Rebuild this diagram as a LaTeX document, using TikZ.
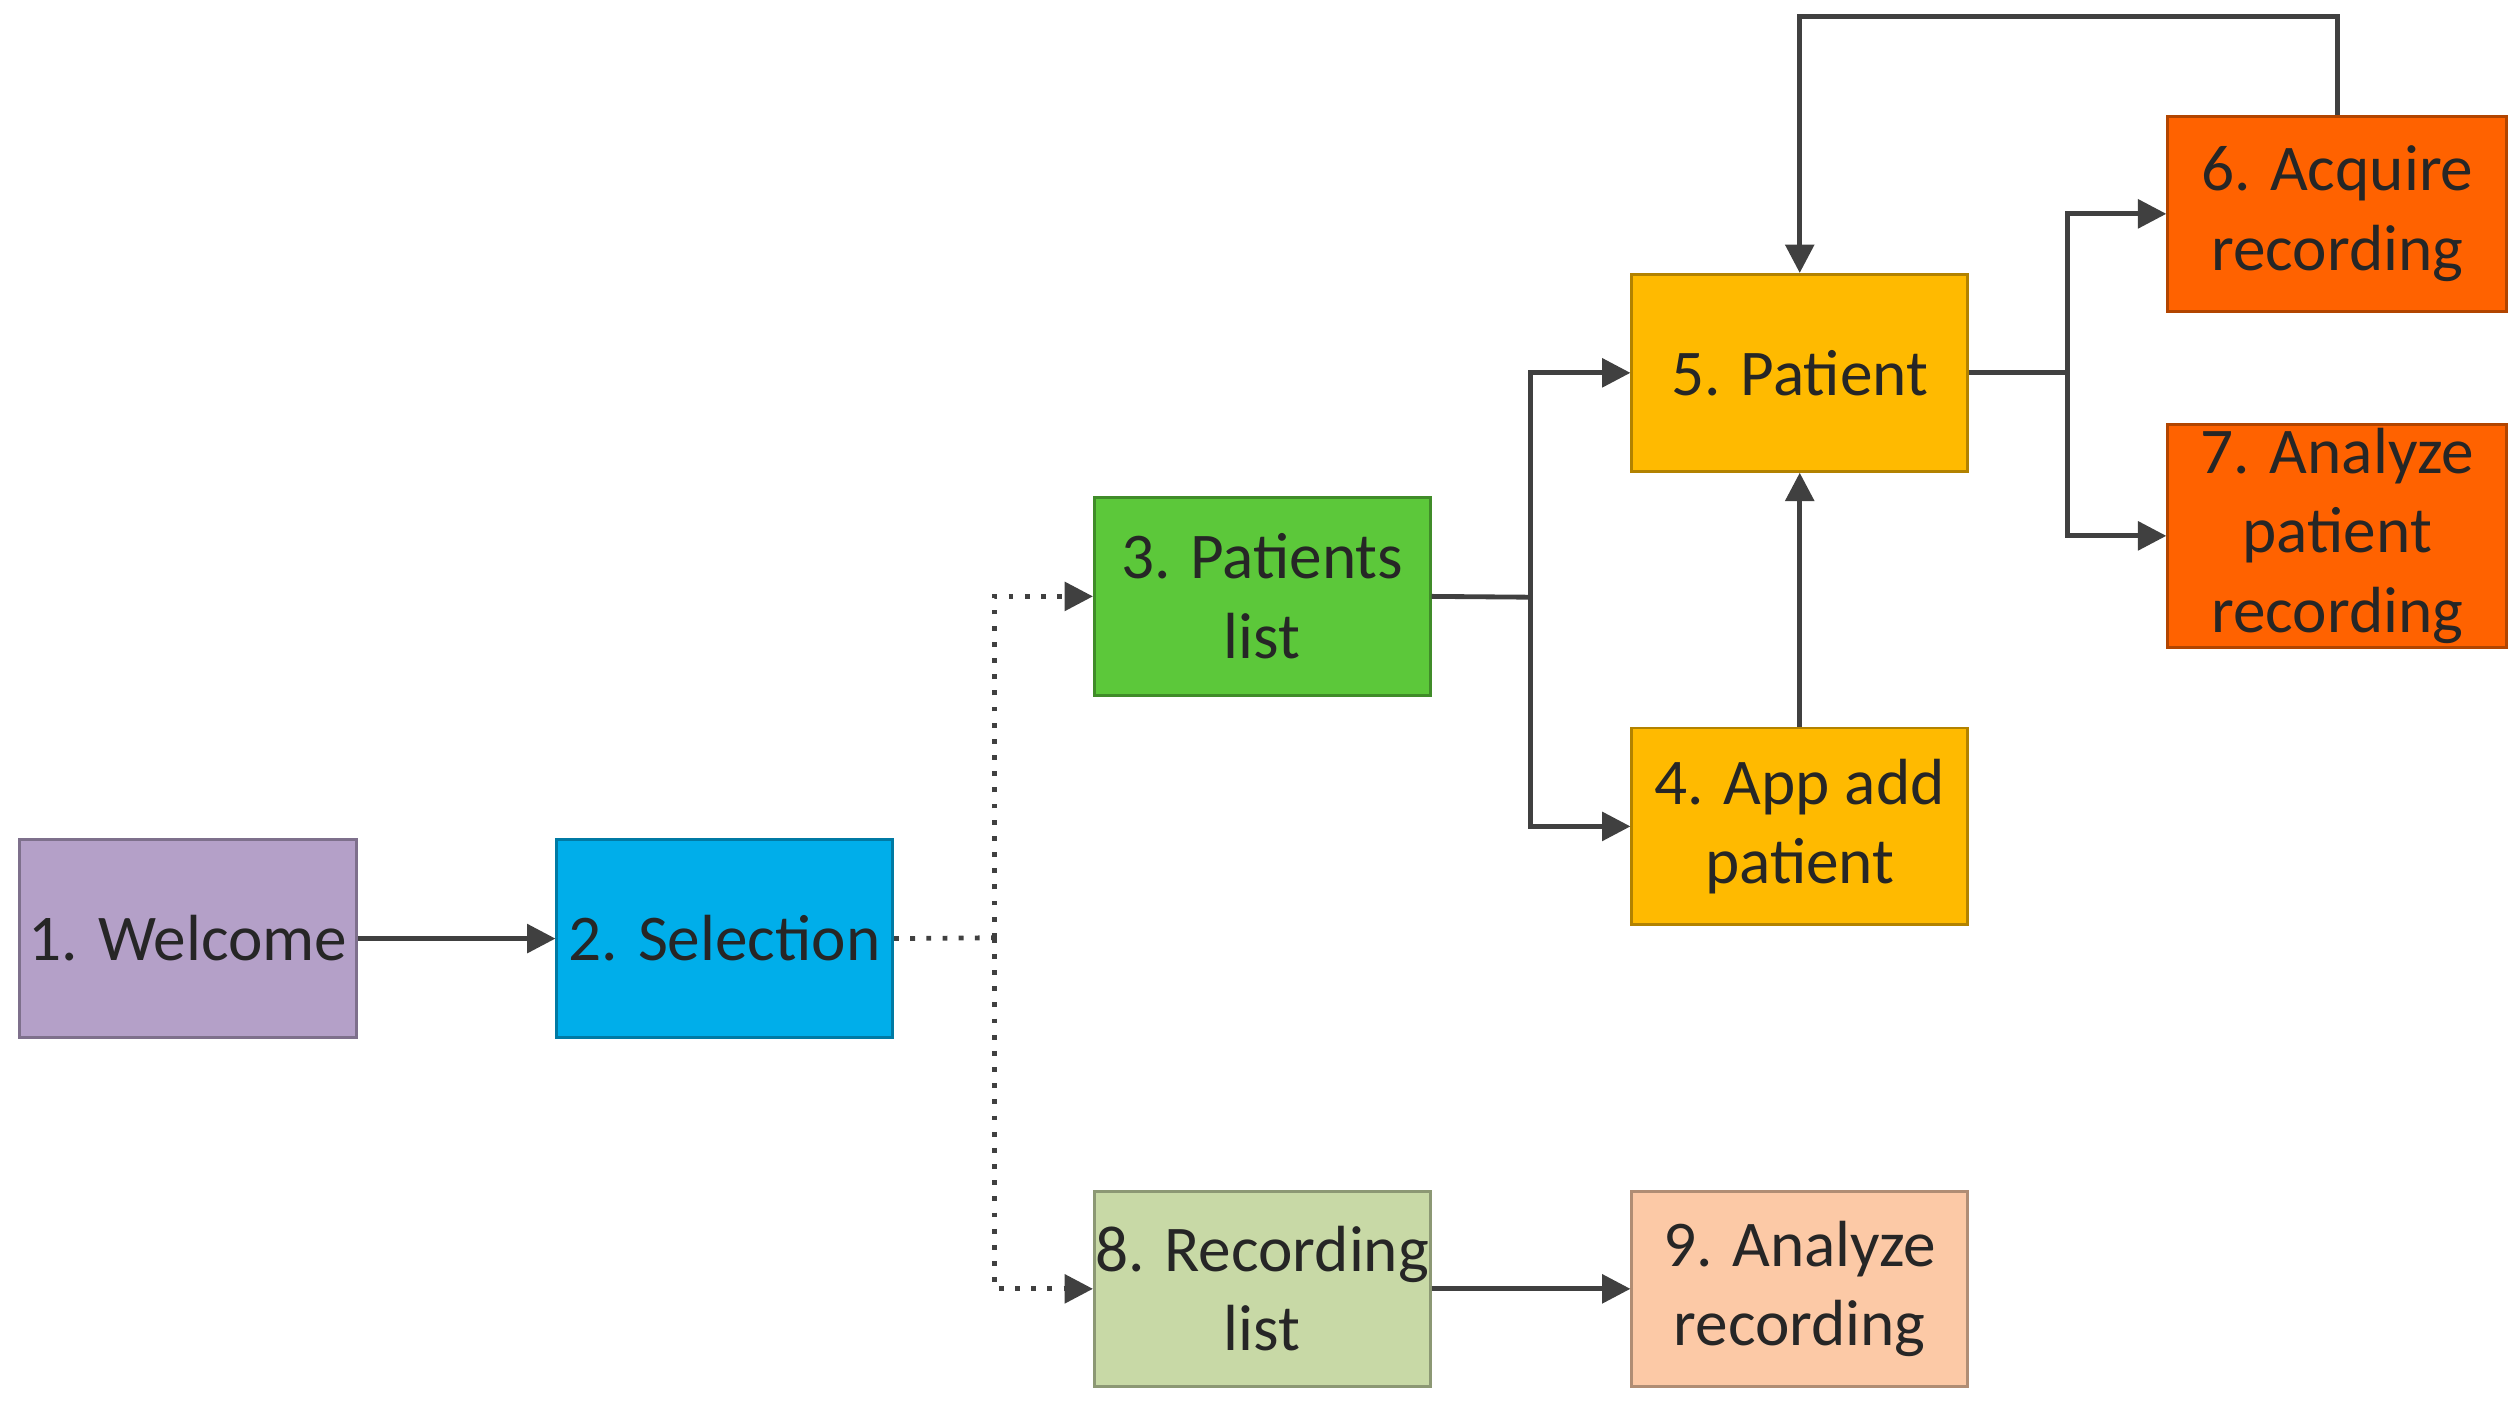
\documentclass[tikz,border=0pt]{standalone}
\usepackage{fontspec}
\setmainfont{Carlito}
\usetikzlibrary{arrows.meta}
\definecolor{c1}{HTML}{B4A0C8}\definecolor{c2}{HTML}{00AEEA}
\definecolor{c3}{HTML}{5CC83A}\definecolor{c45}{HTML}{FFBA00}
\definecolor{c67}{HTML}{FF6200}\definecolor{c8}{HTML}{C8D9A6}
\definecolor{c9}{HTML}{FCC9A6}\definecolor{ln}{HTML}{404040}
\begin{document}
\begin{tikzpicture}[x=0.1mm,y=-0.1mm,
 box/.style={draw=#1!70!black,fill=#1,line width=0.5pt,inner sep=0pt,align=center,
   font=\fontsize{11.5}{14}\selectfont,text=black!85},
 ar/.style={draw=ln,line width=0.85pt,-{Triangle[length=5pt,width=5pt]}},
 ln/.style={draw=ln,line width=0.85pt},
 dt/.style={ar,dotted}]
\useasboundingbox (0,0) rectangle (1560,872);
\newcommand\bx[7]{\node[box=#6,minimum width={(#4-#2)*0.1mm},minimum height={(#5-#3)*0.1mm}] (#1) at ({(#2+#4)/2},{(#3+#5)/2}) {#7};}
\bx{n1}{12}{520}{221}{643}{c1}{1. Welcome}
\bx{n2}{345}{520}{553}{643}{c2}{2. Selection}
\bx{n3}{678}{308}{886}{431}{c3}{3. Patients\\list}
\bx{n4}{1011}{451}{1219}{573}{c45}{4. App add\\patient}
\bx{n5}{1011}{170}{1219}{292}{c45}{5. Patient}
\bx{n6}{1343}{72}{1553}{193}{c67}{6. Acquire\\recording}
\bx{n7}{1343}{263}{1553}{401}{c67}{7. Analyze\\patient\\recording}
\bx{n8}{678}{738}{886}{859}{c8}{8. Recording\\list}
\bx{n9}{1011}{738}{1219}{859}{c9}{9. Analyze\\recording}
\coordinate (d) at (616,581);
\coordinate (p) at (948,370);
\coordinate (q) at (1281,231);
\draw[ar] (n1) -- (n2);
\draw[ln,dotted] (n2.east) -- (d);
\draw[dt] (d) |- (n3.west);
\draw[dt] (d) |- (n8.west);
\draw[ln] (n3.east) -- (p);
\draw[ar] (p) |- (n5.west);
\draw[ar] (p) |- (n4.west);
\draw[ar] (n4) -- (n5);
\draw[ln] (n5.east) -- (q);
\draw[ar] (q) |- (n6.west);
\draw[ar] (q) |- (n7.west);
\draw[ar] (n6.north) -- ++(0,-61) -| (n5.north);
\draw[ar] (n8) -- (n9);
\end{tikzpicture}
\end{document}
